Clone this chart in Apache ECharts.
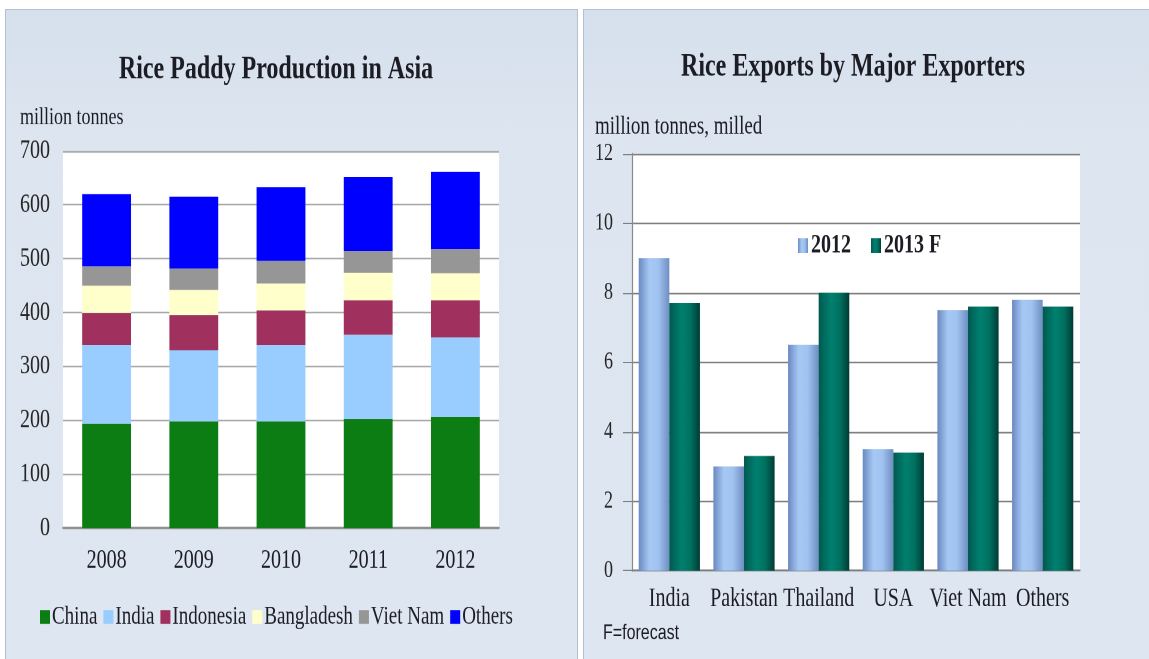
<!DOCTYPE html>
<html>
<head>
<meta charset="utf-8">
<script src="https://cdn.jsdelivr.net/npm/echarts@6/dist/echarts.min.js"></script>
<style>
  html, body { margin: 0; padding: 0; background: #ffffff; width: 1149px; height: 659px; overflow: hidden; }
  .panel { position: absolute; top: 9px; height: 652px; box-sizing: border-box;
           background: linear-gradient(#d6e0ec, #dce5f0 20%, #dde6f1);
           border: 1px solid #b4c0d0; }
  #left { left: 5px; width: 573px; }
  #right { left: 583px; width: 568px; }
  #chart { position: absolute; left: 0; top: 0; width: 1149px; transform-origin: 0 0; }
</style>
</head>
<body>
<div class="panel" id="left"></div>
<div class="panel" id="right"></div>
<div id="chart"></div>
<script>
// Rice paddy production in Asia, million tonnes
const years = ['2008', '2009', '2010', '2011', '2012'];
const china = [194, 198, 198, 202, 206];
const india = [146, 132, 142, 157, 148];
const indonesia = [59, 65, 64, 64, 69];
const bangladesh = [51, 47, 50, 51, 50];
const vietNam = [36, 40, 42, 40, 45];
const others = [134, 133, 137, 138, 143];

// Rice exports by major exporters, million tonnes milled
const exporters = ['India', 'Pakistan', 'Thailand', 'USA', 'Viet Nam', 'Others'];
const exports2012 = [9.0, 3.0, 6.5, 3.5, 7.5, 7.8];
const exports2013F = [7.7, 3.3, 8.0, 3.4, 7.6, 7.6];

// Axis ticks
const paddyTicks = { min: 0, max: 700, interval: 100 };
const exportTicks = { min: 0, max: 12, interval: 2 };

// The chart text is tall and narrow, so the drawing is stretched vertically.
const S = 1.35;
const W = 1149, H = 659;
const el = document.getElementById('chart');
el.style.height = (H / S) + 'px';
el.style.transform = 'scaleY(' + S + ')';
const y = v => v / S;

const serif = "'Liberation Serif', 'DejaVu Serif', serif";
const ink = '#1c1c24';

const chart = echarts.init(el, null, { renderer: 'canvas', devicePixelRatio: 2 });

const g2012 = new echarts.graphic.LinearGradient(0, 0, 1, 0, [
  { offset: 0, color: '#6b89c2' },
  { offset: 0.35, color: '#a6c9f4' },
  { offset: 0.65, color: '#9fc2ef' },
  { offset: 1, color: '#6f8dc2' }
]);
const g2013 = new echarts.graphic.LinearGradient(0, 0, 1, 0, [
  { offset: 0, color: '#005a50' },
  { offset: 0.4, color: '#008070' },
  { offset: 0.7, color: '#00705f' },
  { offset: 1, color: '#003c35' }
]);

const stackNames = ['China', 'India', 'Indonesia', 'Bangladesh', 'Viet Nam', 'Others'];
const stackData = [china, india, indonesia, bangladesh, vietNam, others];
const stackColors = ['#0b7d12', '#99ccff', '#a0305e', '#ffffcc', '#969696', '#0000ff'];

const paddySeries = stackNames.map((name, i) => ({
  name: name,
  type: 'bar',
  stack: 'paddy',
  xAxisIndex: 0,
  yAxisIndex: 0,
  barWidth: '56%',
  itemStyle: { color: stackColors[i] },
  data: stackData[i]
}));

const exportSeries = [
  { name: '2012', data: exports2012, color: g2012 },
  { name: '2013 F', data: exports2013F, color: g2013 }
].map(s => ({
  name: s.name,
  type: 'bar',
  xAxisIndex: 1,
  yAxisIndex: 1,
  barGap: '0%',
  barCategoryGap: '18%',
  itemStyle: { color: s.color },
  data: s.data
}));

const option = {
  backgroundColor: 'transparent',
  animation: false,
  grid: [
    { left: 63, width: 436, top: y(151), height: y(528) - y(151),
      show: true, backgroundColor: '#ffffff', borderWidth: 0 },
    { left: 632, width: 448, top: y(153.7), height: y(570.7) - y(153.7),
      show: true, backgroundColor: '#ffffff', borderWidth: 0 }
  ],
  xAxis: [
    { type: 'category', gridIndex: 0, data: years,
      axisLine: { lineStyle: { color: '#8c8c8c', width: 1.5 } },
      axisTick: { show: false },
      axisLabel: { margin: 14, color: ink, fontFamily: serif, fontSize: 20 } },
    { type: 'category', gridIndex: 1, data: exporters,
      axisLine: { lineStyle: { color: '#7f7f7f', width: 1.2 } },
      axisTick: { show: false },
      axisLabel: { interval: 0, margin: 11, color: ink, fontFamily: serif, fontSize: 20 } }
  ],
  yAxis: [
    { type: 'value', gridIndex: 0, min: paddyTicks.min, max: paddyTicks.max, interval: paddyTicks.interval,
      axisLine: { show: false }, axisTick: { show: false },
      splitLine: { lineStyle: { color: '#a8a8a8', width: 1.2 } },
      axisLabel: { margin: 13, color: '#262626', fontFamily: serif, fontSize: 20 } },
    { type: 'value', gridIndex: 1, min: exportTicks.min, max: exportTicks.max, interval: exportTicks.interval,
      axisLine: { show: true, lineStyle: { color: '#8a8a8a', width: 1.2 } },
      axisTick: { show: true, length: 9, lineStyle: { color: '#7f7f7f' } },
      splitLine: { lineStyle: { color: '#7f7f7f', width: 1.2 } },
      axisLabel: { margin: 19, color: '#262626', fontFamily: serif, fontSize: 18 } }
  ],
  legend: [
    { data: stackNames, left: 35, top: y(615) - 13, itemWidth: 10, itemHeight: 10, itemGap: 6,
      icon: 'rect', textStyle: { color: ink, fontFamily: serif, fontSize: 19, padding: [0, 0, 0, -3] } },
    { data: ['2012', '2013 F'], left: 793, top: y(243) - 13, itemWidth: 10, itemHeight: 11, itemGap: 20,
      icon: 'rect', textStyle: { color: ink, fontFamily: serif, fontSize: 20, fontWeight: 'bold', padding: [0, 0, 0, -2] } }
  ],
  graphic: [
    { type: 'text', x: 276, y: y(70), style: { text: 'Rice Paddy Production in Asia', align: 'center', verticalAlign: 'middle',
      font: "bold 24px " + serif, fill: ink } },
    { type: 'text', x: 853, y: y(67), style: { text: 'Rice Exports by Major Exporters', align: 'center', verticalAlign: 'middle',
      font: "bold 24px " + serif, fill: ink } },
    { type: 'text', x: 20, y: y(118), style: { text: 'million tonnes', align: 'left', verticalAlign: 'middle',
      font: "18px " + serif, fill: ink } },
    { type: 'text', x: 595, y: y(127), style: { text: 'million tonnes, milled', align: 'left', verticalAlign: 'middle',
      font: "19px " + serif, fill: ink } },
    { type: 'text', x: 603, y: y(633), style: { text: 'F=forecast', align: 'left', verticalAlign: 'middle',
      font: "16px 'Liberation Sans', Arial, sans-serif", fill: ink } }
  ],
  series: paddySeries.concat(exportSeries)
};

chart.setOption(option);
</script>
</body>
</html>
